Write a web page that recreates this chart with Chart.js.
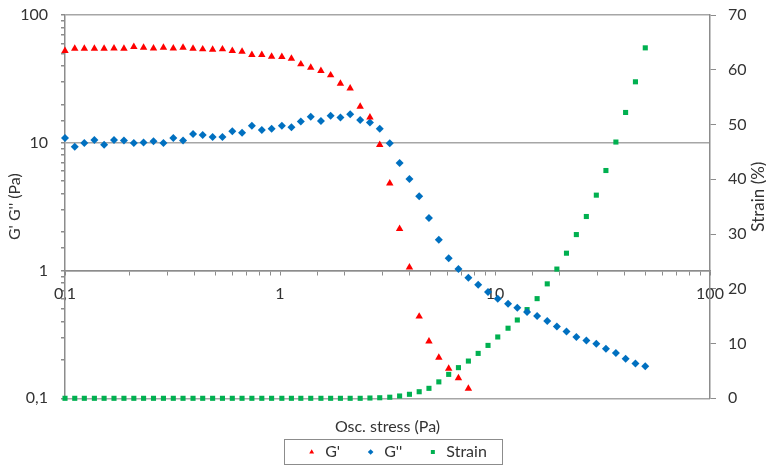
<!DOCTYPE html>
<html>
<head>
<meta charset="utf-8">
<script src="https://cdn.jsdelivr.net/npm/chart.js@4.4.0/dist/chart.umd.min.js"></script>
<style>
    html, body { margin: 0; padding: 0; background: #fff; }
    #wrap { width: 766px; height: 467px; }
</style>
</head>
<body>
<div id="wrap"><canvas id="rheoChart"></canvas></div>
<script>
// oscillation stress sweep
var stress = [0.1, 0.111, 0.123, 0.137, 0.152, 0.169, 0.188, 0.209, 0.232, 0.258,
    0.287, 0.319, 0.354, 0.394, 0.437, 0.486, 0.540, 0.600, 0.666, 0.740,
    0.823, 0.914, 1.02, 1.13, 1.25, 1.39, 1.55, 1.72, 1.91, 2.12,
    2.36, 2.62, 2.91, 3.24, 3.60, 4.00, 4.44, 4.93, 5.48, 6.09,
    6.76, 7.52, 8.35, 9.28, 10.3, 11.5, 12.7, 14.1, 15.7, 17.5,
    19.4, 21.5, 23.9, 26.6, 29.6, 32.8, 36.5, 40.5, 45.0, 50.0];

var gPrime = [52.4, 54.6, 54.6, 54.6, 54.6, 54.9, 54.6, 56.3, 55.6, 54.9,
    55.6, 54.9, 55.6, 54.6, 54.0, 53.6, 54.0, 52.4, 51.7, 48.8,
    48.7, 47.3, 47.0, 45.6, 41.2, 38.8, 36.5, 33.8, 29.1, 26.7,
    19.2, 15.8, 9.65, 4.82, 2.12, 1.06, 0.437, 0.279, 0.208, 0.171,
    0.144, 0.119];

var gDouble = [10.9, 9.3, 9.95, 10.5, 9.65, 10.5, 10.4, 9.95, 10.05, 10.3,
    9.95, 10.9, 10.4, 11.7, 11.5, 11.1, 11.1, 12.3, 12.0, 13.6,
    12.6, 12.9, 13.6, 13.2, 14.7, 16.0, 14.8, 16.3, 15.8, 16.7,
    15.1, 14.4, 12.9, 9.9, 6.94, 5.2, 3.81, 2.58, 1.74, 1.25,
    1.03, 0.877, 0.773, 0.678, 0.601, 0.55, 0.511, 0.473, 0.44, 0.402,
    0.365, 0.334, 0.302, 0.284, 0.267, 0.244, 0.226, 0.204, 0.187, 0.178];

var strain = [0, 0, 0, 0, 0, 0, 0, 0, 0, 0,
    0, 0, 0, 0, 0, 0, 0, 0, 0, 0,
    0, 0, 0, 0, 0, 0, 0, 0, 0, 0,
    0, 0.05, 0.1, 0.2, 0.42, 0.73, 1.2, 1.82, 3.0, 4.37,
    5.6, 6.8, 8.2, 9.66, 11.2, 12.8, 14.3, 16.2, 18.2, 20.9,
    23.6, 26.5, 29.9, 33.2, 37.1, 41.6, 46.8, 52.2, 57.8, 64.0];

var logTicks = [0.1, 1, 10, 100];
var logTickLabels = ['0,1', '1', '10', '100'];
var strainMin = 0;
var strainMax = 70;
var strainStep = 10;

var gridGray = '#a6a6a6';
var axisGray = '#8c8c8c';
var textColor = '#333333';

function toPoints(xs, ys) {
    var out = [];
    for (var i = 0; i < ys.length; i++) {
        out.push({x: xs[i], y: ys[i]});
    }
    return out;
}

function majorLabel(value) {
    for (var i = 0; i < logTicks.length; i++) {
        if (Math.abs(Math.log10(value) - Math.log10(logTicks[i])) < 1e-6) {
            return logTickLabels[i];
        }
    }
    return '';
}

// legend sits a bit right of centre in the original
var legendNudge = {
    id: 'legendNudge',
    afterLayout: function (chart) {
        if (chart.legend) {
            chart.legend.left += 9;
            chart.legend.right += 9;
        }
    }
};

// box round the legend, as in the original
var legendFrame = {
    id: 'legendFrame',
    afterDraw: function (chart) {
        var boxes = chart.legend && chart.legend.legendHitBoxes;
        if (!boxes || !boxes.length) return;
        var first = boxes[0];
        var last = boxes[boxes.length - 1];
        var left = Math.round(first.left - 22);
        var right = Math.round(last.left + last.width + 15);
        var ctx = chart.ctx;
        ctx.save();
        ctx.strokeStyle = '#8c8c8c';
        ctx.lineWidth = 1;
        ctx.strokeRect(left + 0.5, Math.round(first.top - 5) + 0.5, right - left, 25);
        ctx.restore();
    }
};

// right axis title reads bottom to top in the original
var strainTitle = {
    id: 'strainTitle',
    afterDraw: function (chart) {
        var area = chart.chartArea;
        var ctx = chart.ctx;
        ctx.save();
        ctx.translate(759, (area.top + area.bottom) / 2 - 10);
        ctx.rotate(-Math.PI / 2);
        ctx.font = '17px Lato';
        ctx.fillStyle = textColor;
        ctx.textAlign = 'center';
        ctx.textBaseline = 'middle';
        ctx.fillText('Strain (%)', 0, 0);
        ctx.restore();
    }
};

function drawChart() {
    Chart.defaults.font.family = 'Lato';
    Chart.defaults.color = textColor;

    var ctx = document.getElementById('rheoChart').getContext('2d');
    new Chart(ctx, {
        type: 'scatter',
        data: {
            datasets: [{
                    label: "G'",
                    data: toPoints(stress, gPrime),
                    yAxisID: 'y',
                    pointStyle: 'triangle',
                    pointRadius: 4.3,
                    backgroundColor: '#ff0000',
                    borderColor: '#ff0000',
                    borderWidth: 0,
                    clip: false
                },
                {
                    label: "G''",
                    data: toPoints(stress, gDouble),
                    yAxisID: 'y',
                    pointStyle: 'rectRot',
                    pointRadius: 4,
                    backgroundColor: '#0070c0',
                    borderColor: '#0070c0',
                    borderWidth: 0,
                    clip: false
                },
                {
                    label: 'Strain',
                    data: toPoints(stress, strain),
                    yAxisID: 'y2',
                    pointStyle: 'rect',
                    pointRadius: 3.6,
                    backgroundColor: '#00b050',
                    borderColor: '#00b050',
                    borderWidth: 0,
                    clip: false
                }
            ]
        },
        options: {
            responsive: true,
            maintainAspectRatio: false,
            animation: {
                duration: 0
            },
            layout: {
                padding: {top: 15, left: 0, right: 0, bottom: 1}
            },
            scales: {
                x: {
                    type: 'logarithmic',
                    position: {y: 1},
                    min: 0.1,
                    max: 100,
                    border: {color: axisGray, width: 1.5},
                    grid: {
                        drawOnChartArea: false,
                        tickLength: 4,
                        tickColor: axisGray
                    },
                    ticks: {
                        autoSkip: false,
                        maxRotation: 0,
                        padding: 10,
                        font: {size: 16},
                        callback: function (value) {
                            return majorLabel(value);
                        }
                    }
                },
                y: {
                    type: 'logarithmic',
                    position: 'left',
                    min: 0.1,
                    max: 100,
                    afterFit: function (scale) {
                        scale.width = 65;
                        scale.paddingTop = 0;
                    },
                    border: {color: axisGray, width: 1.5},
                    grid: {
                        lineWidth: 1.5,
                        tickLength: 4,
                        tickColor: axisGray,
                        color: function (c) {
                            return c.tick && majorLabel(c.tick.value) !== '' ? gridGray : 'rgba(0,0,0,0)';
                        }
                    },
                    ticks: {
                        autoSkip: false,
                        padding: 13,
                        font: {size: 16},
                        callback: function (value) {
                            return majorLabel(value);
                        }
                    },
                    title: {
                        display: true,
                        text: "G' G'' (Pa)",
                        font: {size: 16},
                        padding: {top: 5, bottom: 0}
                    }
                },
                y2: {
                    type: 'linear',
                    position: 'right',
                    min: strainMin,
                    max: strainMax,
                    afterFit: function (scale) {
                        scale.width = 56;
                        scale.paddingTop = 0;
                    },
                    border: {color: axisGray, width: 1.5},
                    grid: {
                        drawOnChartArea: false,
                        tickLength: 6,
                        tickColor: axisGray
                    },
                    ticks: {
                        stepSize: strainStep,
                        padding: 12,
                        font: {size: 16}
                    }
                }
            },
            plugins: {
                title: {
                    display: true,
                    text: 'Osc. stress (Pa)',
                    position: 'bottom',
                    fullSize: false,
                    weight: 500,
                    font: {size: 16, weight: 'normal'},
                    padding: {top: 19, bottom: -17.5}
                },
                legend: {
                    position: 'bottom',
                    fullSize: false,
                    maxHeight: 47,
                    labels: {
                        usePointStyle: true,
                        boxWidth: 11,
                        boxHeight: 4,
                        padding: 25,
                        font: {size: 16}
                    }
                },
                tooltip: {enabled: false}
            }
        },
        plugins: [legendNudge, legendFrame, strainTitle]
    });
}

drawChart();
</script>
</body>
</html>
